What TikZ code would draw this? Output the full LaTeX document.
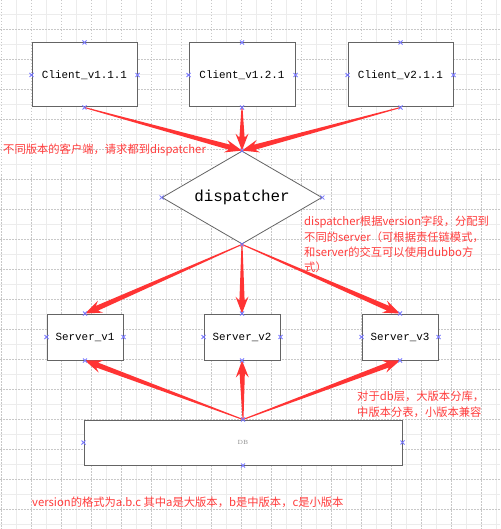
\documentclass[tikz,border=0pt]{standalone}
\usepackage{fontspec}
\setmonofont{Liberation Mono}
\newfontfamily\cjk{Noto Sans CJK SC}
\usetikzlibrary{shapes.geometric,calc}
\definecolor{ared}{RGB}{255,52,52}
\definecolor{tred}{RGB}{255,60,60}
\definecolor{mk}{RGB}{120,120,255}
\definecolor{bx}{RGB}{100,100,100}
\definecolor{gsolid}{RGB}{236,236,236}
\definecolor{gdash}{RGB}{200,200,200}
\newcommand\tarrow[2]{%
  \path (#2) coordinate (tT) ($(#2)!13pt!(#1)$) coordinate (tN)
        ($(#2)!17pt!(#1)$) coordinate (tK) (#1) coordinate (tS);
  \fill[ared] ($(tS)!0.5pt!90:(tT)$) -- ($(tN)!2.6pt!90:(tT)$) -- ($(tK)!6.5pt!90:(tT)$)
    -- (tT) -- ($(tK)!6.5pt!-90:(tT)$) -- ($(tN)!2.6pt!-90:(tT)$)
    -- ($(tS)!0.5pt!-90:(tT)$) -- cycle;
}
\newcommand\mrk[1]{%
  \draw[mk,line width=0.8pt] ($(#1)+(-2,-2)$) -- ($(#1)+(2,2)$)
    ($(#1)+(-2,2)$) -- ($(#1)+(2,-2)$);}
\tikzset{
  boxst/.style={draw=bx, line width=1pt, fill=white, inner sep=0pt,
    font=\ttfamily\fontsize{10.9}{12}\selectfont},
  redtext/.style={text=tred, inner sep=0pt, font=\cjk\fontsize{11.3}{15.4}\selectfont},
}
\begin{document}
\begin{tikzpicture}[x=1pt,y=-1pt]
\useasboundingbox (0,0) rectangle (500,529);
\fill[white] (0,0) rectangle (500,529);
% grid
\foreach \x in {16.5,46.5,...,496.5} \draw[gsolid,line width=1pt] (\x,0) -- (\x,529);
\foreach \y in {14.3,44.3,...,524.3} \draw[gsolid,line width=1pt] (0,\y) -- (500,\y);
\foreach \x in {1.5,31.5,...,481.5} \draw[gdash,line width=0.9pt,dash pattern=on 1.5pt off 1.5pt] (\x,0) -- (\x,529);
\foreach \y in {-0.7,29.3,...,509.3} \draw[gdash,line width=0.9pt,dash pattern=on 1.5pt off 1.5pt] (0,\y) -- (500,\y);
% clients
\node[boxst, minimum width=105pt, minimum height=64pt] (c1) at (84.5,75) {Client\_v1.1.1};
\node[boxst, minimum width=106pt, minimum height=64pt] (c2) at (242,75) {Client\_v1.2.1};
\node[boxst, minimum width=105pt, minimum height=64pt] (c3) at (400.5,75) {Client\_v2.1.1};
% dispatcher
\node[draw=bx, line width=0.8pt, fill=white, shape=diamond, aspect=1.72, inner sep=0pt,
  minimum width=160pt, minimum height=93pt, font=\ttfamily\fontsize{15.9}{18}\selectfont]
  (disp) at (242,197.5) {dispatcher};
% servers
\node[boxst, minimum width=76pt, minimum height=46pt] (s1) at (85,337) {Server\_v1};
\node[boxst, minimum width=76pt, minimum height=46pt] (s2) at (242,337) {Server\_v2};
\node[boxst, minimum width=76pt, minimum height=46pt] (s3) at (400,337) {Server\_v3};
% db
\node[draw=bx, line width=1pt, fill=white, inner sep=0pt, minimum width=318pt, minimum height=45pt,
  text=gray, font=\fontsize{6}{7}\selectfont] (db) at (243,442.5) {DB};
% arrows
\tarrow{c1.south}{disp.north}
\tarrow{c2.south}{disp.north}
\tarrow{c3.south}{disp.north}
\tarrow{disp.south}{s1.north}
\tarrow{disp.south}{s2.north}
\tarrow{disp.south}{s3.north}
\tarrow{db.north}{s1.south}
\tarrow{db.north}{s2.south}
\tarrow{db.north}{s3.south}
% markers
\foreach \n in {c1,c2,c3,s1,s2,s3,db,disp}
  \foreach \a in {north,south,east,west} {\mrk{\n.\a}}
% texts
\node[redtext, anchor=west] (t1) at (3,150) {不同版本的客户端，请求都到dispatcher};
\node[redtext, anchor=north west, align=left] (t2) at (304,216)
  {dispatcher根据version字段，分配到\\不同的server（可根据责任链模式，\\和server的交互可以使用dubbo方\\式）};
\node[redtext, anchor=north west, align=left] (t3) at (357,391)
  {对于db层，大版本分库，\\中版本分表，小版本兼容};
\node[redtext, anchor=west] (t4) at (32,502)
  {version的格式为a.b.c 其中a是大版本，b是中版本，c是小版本};
\end{tikzpicture}
\end{document}
